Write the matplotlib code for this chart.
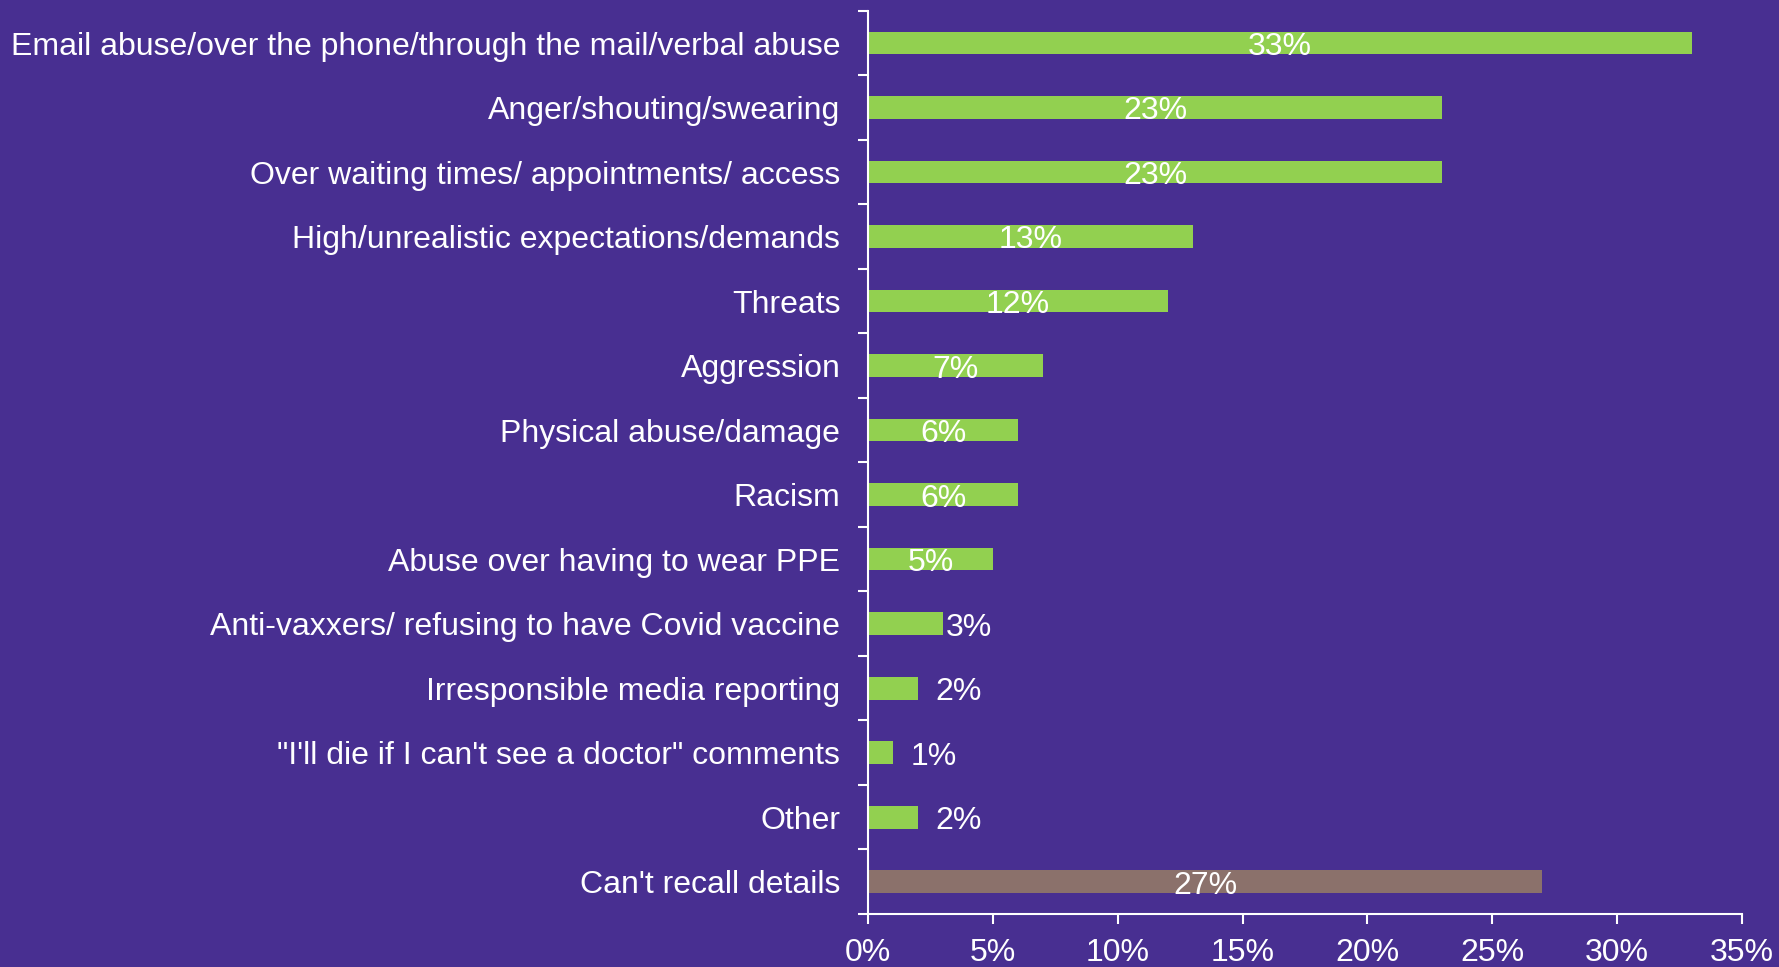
import matplotlib.pyplot as plt
import numpy as np

#----Data----

categories = [
    "Email abuse/over the phone/through the mail/verbal abuse",
    "Anger/shouting/swearing",
    "Over waiting times/ appointments/ access",
    "High/unrealistic expectations/demands",
    "Threats",
    "Aggression",
    "Physical abuse/damage",
    "Racism",
    "Abuse over having to wear PPE",
    "Anti-vaxxers/ refusing to have Covid vaccine",
    "Irresponsible media reporting",
    "\"I'll die if I can't see a doctor\" comments",
    "Other",
    "Can't recall details",
]
values = [33, 23, 23, 13, 12, 7, 6, 6, 5, 3, 2, 1, 2, 27]
bar_colors = ["#92D050"] * 13 + ["#8B716B"]
xticks = [0, 5, 10, 15, 20, 25, 30, 35]

#----Style----

bg = "#482F91"
fs = 23
plt.rcParams["font.family"] = ["Liberation Sans", "DejaVu Sans"]

fig = plt.figure(figsize=(17.79, 9.67), dpi=100)
fig.patch.set_facecolor(bg)
ax = fig.add_axes([0.488, 0.0548, 0.491, 0.934])
ax.set_facecolor(bg)

y = np.arange(len(categories))
ax.barh(y, values, height=0.35, color=bar_colors)

for yi, v in zip(y, values):
    if v >= 5:
        ax.text(v / 2, yi + 0.06, f"{v}%", ha="center", va="center", color="white", fontsize=fs)
    else:
        ax.text(v + 0.1 + 0.6 * (v < 3), yi + 0.06, f"{v}%", ha="left", va="center", color="white", fontsize=fs)

ax.set_ylim(len(categories) - 0.5, -0.5)
ax.set_xlim(0, 35)
ax.set_yticks(y)
ax.set_yticklabels(categories)
ax.set_yticks(np.arange(-0.5, len(categories), 1), minor=True)
ax.set_xticks(xticks)
ax.set_xticklabels([f"{t}%" for t in xticks])

ax.tick_params(axis="y", which="major", length=0, pad=20, labelsize=fs, labelcolor="white")
ax.tick_params(axis="y", which="minor", length=7, width=1.5, color="white", direction="out")
ax.tick_params(axis="x", length=7, width=1.5, color="white", pad=10, labelsize=fs, labelcolor="white")

for s in ["top", "right"]:
    ax.spines[s].set_visible(False)
for s in ["left", "bottom"]:
    ax.spines[s].set_color("white")
    ax.spines[s].set_linewidth(1.5)

plt.savefig("out.png", dpi=100, facecolor=bg)
